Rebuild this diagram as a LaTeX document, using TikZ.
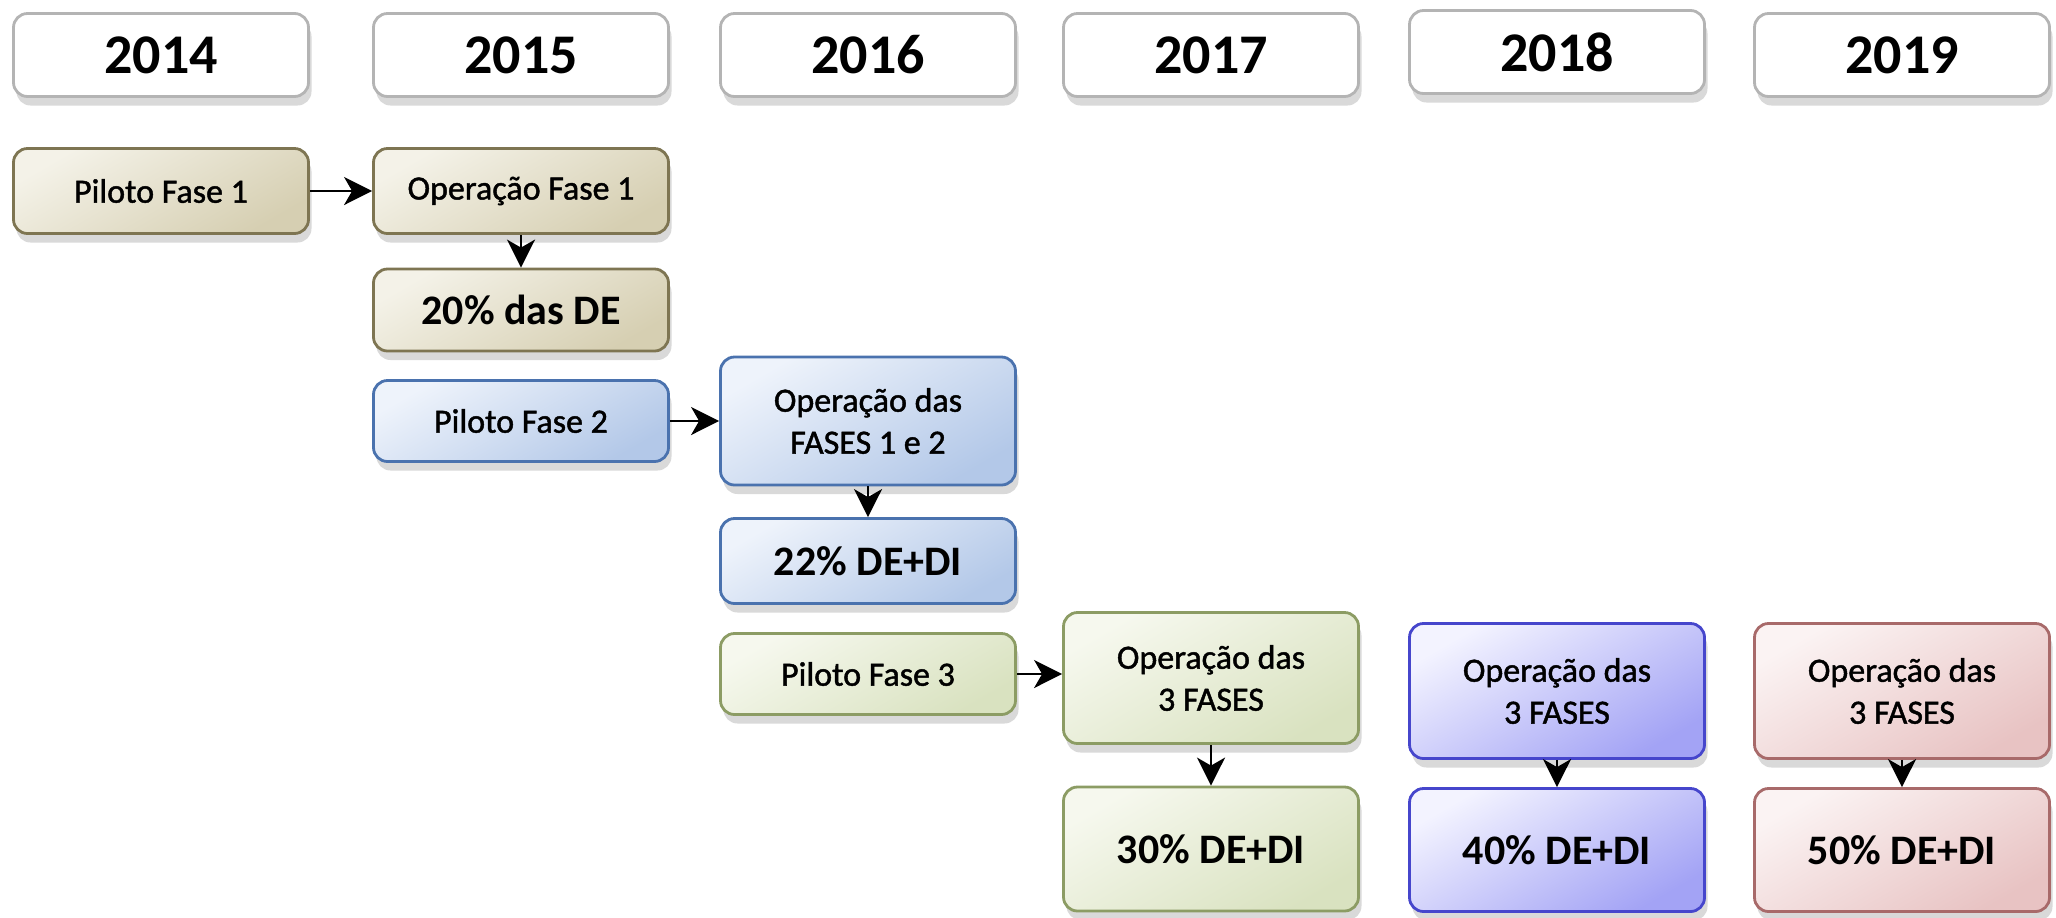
\documentclass[tikz,border=0pt]{standalone}
\usepackage{fontspec}
\setmainfont{Carlito}
\usepackage{tikz}
\usetikzlibrary{arrows.meta,shadows}
\definecolor{yearline}{HTML}{B4B4B4}
\definecolor{tanline}{HTML}{7E7552}
\definecolor{tanlight}{HTML}{F4F2E8}
\definecolor{tandark}{HTML}{D6CFB2}
\definecolor{blueline}{HTML}{4A72AE}
\definecolor{bluelight}{HTML}{EEF3FB}
\definecolor{bluedark}{HTML}{B3C8E8}
\definecolor{greenline}{HTML}{8C9C64}
\definecolor{greenlight}{HTML}{F6F8EE}
\definecolor{greendark}{HTML}{D9E2C0}
\definecolor{violetline}{HTML}{4646CC}
\definecolor{violetlight}{HTML}{F3F3FF}
\definecolor{violetdark}{HTML}{A3A3F5}
\definecolor{roseline}{HTML}{A86A6A}
\definecolor{roselight}{HTML}{FBF3F3}
\definecolor{rosedark}{HTML}{E8C3C3}

\tikzset{
  box/.style={draw, rounded corners=7pt, line width=1.4pt, minimum width=147.5pt,
    align=center, inner sep=2pt,
    drop shadow={shadow xshift=1.5pt, shadow yshift=-4.5pt, opacity=0.3}},
  yearbox/.style={box, draw=yearline, fill=white, minimum height=41.5pt,
    font=\fontsize{28}{30}\selectfont\bfseries},
  textfont/.style={font=\fontsize{17}{21}\selectfont\addfontfeature{FakeBold=1.3}},
  pctfont/.style={font=\fontsize{21}{24}\selectfont\bfseries},
  tanbox/.style={box, draw=tanline, top color=tanlight, bottom color=tandark, shading angle=30},
  bluebox/.style={box, draw=blueline, top color=bluelight, bottom color=bluedark, shading angle=30},
  greenbox/.style={box, draw=greenline, top color=greenlight, bottom color=greendark, shading angle=30},
  violetbox/.style={box, draw=violetline, top color=violetlight, bottom color=violetdark, shading angle=30},
  rosebox/.style={box, draw=roseline, top color=roselight, bottom color=rosedark, shading angle=30},
  flow/.style={-{Stealth[length=14pt, width=14pt, inset=4pt]}, line width=1.3pt, black}
}

\begin{document}
\begin{tikzpicture}[x=0.5pt, y=-0.5pt]
  \useasboundingbox (0, 0) rectangle (2056, 917);

  % years
  \node[yearbox] (y2014) at (161, 55) {2014};
  \node[yearbox] (y2015) at (521, 55) {2015};
  \node[yearbox] (y2016) at (868, 55) {2016};
  \node[yearbox] (y2017) at (1211, 55) {2017};
  \node[yearbox] (y2018) at (1557, 52) {2018};
  \node[yearbox] (y2019) at (1902, 55) {2019};

  % fase 1
  \node[tanbox, textfont, minimum height=42.5pt] (pilotoA) at (161, 191) {Piloto Fase 1};
  \node[tanbox, textfont, minimum height=42.5pt] (operA) at (521, 191) {Operação Fase 1};
  \node[tanbox, pctfont, minimum height=41pt] (pctA) at (521, 310) {20\% das DE};

  % fase 2
  \node[bluebox, textfont, minimum height=40.5pt] (pilotoB) at (521, 421) {Piloto Fase 2};
  \node[bluebox, textfont, minimum height=64pt] (operB) at (868, 421) {Operação das\\FASES 1 e 2};
  \node[bluebox, pctfont, minimum height=42.5pt] (pctB) at (868, 561) {22\% DE+DI};

  % fase 3
  \node[greenbox, textfont, minimum height=40.5pt] (pilotoC) at (868, 674) {Piloto Fase 3};
  \node[greenbox, textfont, minimum height=65.5pt] (operC) at (1211, 678) {Operação das\\3 FASES};
  \node[greenbox, pctfont, minimum height=62pt] (pctC) at (1211, 849) {30\% DE+DI};

  % 2018 e 2019
  \node[violetbox, textfont, minimum height=67.5pt] (operD) at (1557, 691) {Operação das\\3 FASES};
  \node[violetbox, pctfont, minimum height=61.5pt] (pctD) at (1557, 850) {40\% DE+DI};
  \node[rosebox, textfont, minimum height=67.5pt] (operE) at (1902, 691) {Operação das\\3 FASES};
  \node[rosebox, pctfont, minimum height=61.5pt] (pctE) at (1902, 850) {50\% DE+DI};

  % arrows
  \draw[flow] (pilotoA) -- (operA);
  \draw[flow] (operA) -- (pctA);
  \draw[flow] (pilotoB) -- (operB);
  \draw[flow] (operB) -- (pctB);
  \draw[flow] (pilotoC.east) -- (pilotoC.east -| operC.west);
  \draw[flow] (operC) -- (pctC);
  \draw[flow] (operD) -- (pctD);
  \draw[flow] (operE) -- (pctE);
\end{tikzpicture}
\end{document}
